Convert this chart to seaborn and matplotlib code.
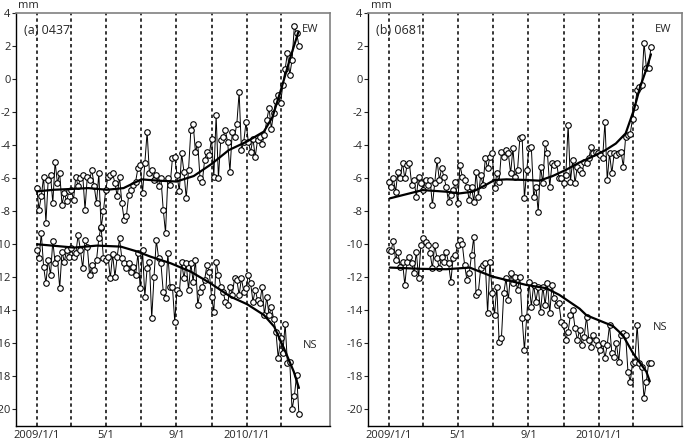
import numpy as np
import pandas as pd
import matplotlib
matplotlib.use("Agg")
import matplotlib.pyplot as plt
import seaborn as sns

# ---------------- data ----------------
obs_dates = pd.date_range("2009-01-01", periods=115, freq="4D")

ew_a = [-6.6, -7.9, -7.1, -5.9, -8.7, -6.1, -5.8, -7.5, -5.0, -6.3, -5.7, -7.6, -6.9, -7.4, -6.8,
        -6.7, -7.3, -5.9, -6.5, -6.0, -5.8, -7.9, -5.9, -6.1, -5.5, -6.5, -7.5, -5.7, -9.0, -8.0,
        -6.7, -5.9, -5.8, -5.7, -6.3, -7.1, -5.9, -7.5, -8.5, -8.3, -7.0, -6.7, -6.4, -6.2,
        -5.4, -5.2, -6.9, -5.1, -3.2, -5.7, -5.5, -6.1, -5.8, -6.5, -6.0, -7.9, -9.3, -6.0, -6.4,
        -4.8, -4.7, -5.8, -6.8, -4.5, -5.6, -7.2, -5.5, -3.1, -2.7, -4.4, -3.9, -6.0, -6.2,
        -4.9, -4.4, -4.6, -3.6, -5.9, -2.2, -6.0, -3.7, -3.5, -3.1, -3.8, -5.6, -3.2, -3.5,
        -2.7, -0.8, -4.3, -3.8, -2.6, -3.8, -4.4, -3.6, -4.7, -3.7, -3.5, -3.9, -3.4,
        -2.5, -1.75, -3.0, -2.05, -1.3, -0.96, -1.45, -0.36, 0.6, 1.6, 0.25, 1.15, 3.2, 2.8, 2.0]

ns_a = [-10.35, -10.85, -9.33, -11.35, -12.36, -10.95, -11.86, -9.8, -11.15, -10.85, -12.66, -10.45, -11.05, -10.35, -10.75,
        -10.24, -10.75, -10.55, -9.44, -10.35, -11.45, -9.74, -10.14, -11.86, -11.25, -11.55, -10.95, -9.64, -8.93, -10.85,
        -10.95, -10.75, -12.06, -10.6, -11.96, -10.75, -9.64, -10.85, -11.15, -11.45, -11.15, -11.66, -11.35, -11.86,
        -10.55, -12.66, -10.35, -13.17, -11.45, -11.05, -14.48, -11.96, -9.74, -10.85, -11.15, -12.86, -13.27, -10.55, -12.56,
        -12.56, -14.68, -12.76, -12.97, -11.05, -12.06, -11.15, -12.76, -11.15, -12.26, -10.95, -13.67, -12.86, -12.56,
        -12.16, -11.25, -11.66, -13.17, -14.08, -11.05, -11.86, -12.56, -12.86, -13.47, -13.67, -12.56, -13.07, -12.06,
        -12.16, -13.07, -12.06, -12.86, -12.66, -11.86, -12.36, -13.47, -12.76, -13.37, -13.57, -12.56, -14.28,
        -13.2, -14.3, -13.8, -14.5, -15.3, -16.9, -15.7, -16.6, -14.8, -17.2, -17.1, -20.0, -19.2, -17.9, -20.3]

ew_b = [-6.21, -6.52, -6.01, -6.82, -5.61, -6.01, -5.06, -6.01, -5.2, -5.1, -6.41, -6.11, -7.12, -5.91, -6.31,
        -6.72, -6.11, -6.41, -6.11, -7.63, -6.31, -4.9, -6.11, -5.41, -5.91, -6.52, -7.42, -7.02, -6.72, -6.21,
        -7.52, -5.2, -5.91, -6.11, -6.52, -7.32, -6.52, -7.42, -5.61, -7.12, -5.81, -6.41, -4.8, -5.41, -4.7,
        -4.5, -6.62, -5.71, -6.21, -4.4, -4.7, -4.3, -4.5, -5.71, -4.2, -5.91, -5.51, -3.59, -3.49, -7.22,
        -5.51, -4.2, -4.1, -7.12, -6.52, -8.03, -5.3, -6.31, -3.89, -4.5, -6.52, -5.1, -5.2, -5.1, -6.01,
        -6.01, -6.31, -5.81, -2.78, -6.21, -4.9, -6.31, -5.3, -5.51, -5.71, -5.0, -5.1, -4.8, -4.1, -4.5,
        -4.4, -4.5, -4.6, -4.8, -2.58, -6.11, -4.5, -5.71, -4.5, -4.6, -4.5, -4.4, -5.3, -3.49, -3.39,
        -3.3, -2.4, -1.7, -0.66, -0.5, -0.36, 2.2, 0.7, 0.7, 1.95]

ns_b = [-10.34, -10.4, -9.8, -10.95, -10.44, -11.35, -11.05, -12.46, -11.05, -10.75, -11.15, -11.76, -10.44, -12.06, -10.04,
        -9.64, -9.84, -10.04, -10.55, -11.45, -10.04, -10.85, -11.45, -10.75, -11.05, -10.44, -11.15, -12.26, -10.85, -10.65,
        -10.04, -9.74, -10.0, -11.25, -12.16, -11.76, -10.65, -9.54, -13.07, -12.86, -11.45, -11.25, -11.15, -14.18, -11.05,
        -12.97, -14.28, -12.56, -15.89, -15.69, -12.97, -12.06, -13.37, -11.76, -12.36, -11.96, -12.76, -11.96, -14.48, -16.4,
        -14.38, -12.26, -13.77, -12.46, -13.47, -12.56, -14.08, -12.56, -13.67, -12.36, -14.18, -12.46, -13.27, -13.67, -13.57,
        -14.68, -14.88, -15.79, -15.29, -14.28, -13.98, -15.08, -15.79, -15.19, -16.09, -15.59, -14.38, -15.79, -16.2, -15.49,
        -15.79, -16.09, -16.4, -16.0, -16.9, -16.09, -14.88, -16.6, -16.8, -16.0, -17.1, -15.49, -15.39, -15.49, -17.71,
        -18.31, -17.2, -17.1, -14.88, -17.2, -17.4, -19.3, -18.31, -17.2, -17.2]

# smoothed trend curves (read at nodes)
ew_a_trend_dates = ["2009-01-01", "2009-01-31", "2009-03-03", "2009-04-01", "2009-05-03", "2009-06-01",
                    "2009-07-02", "2009-08-01", "2009-09-01", "2009-10-01", "2009-11-01", "2009-12-01",
                    "2010-01-01", "2010-01-31", "2010-02-15", "2010-03-03", "2010-03-18", "2010-04-01"]
ew_a_trend = [-6.8, -6.7, -6.65, -6.6, -6.7, -6.6, -6.07, -6.15, -6.2, -5.87, -5.14, -4.3,
              -3.79, -3.18, -2.3, -0.5, 1.3, 2.85]

ns_a_trend_dates = ["2009-01-02", "2009-03-07", "2009-04-16", "2009-05-27", "2009-06-25", "2009-07-18",
                    "2009-08-22", "2009-09-26", "2009-10-30", "2009-12-04", "2010-01-02", "2010-01-31",
                    "2010-02-18", "2010-03-07", "2010-03-24", "2010-04-02"]
ns_a_trend = [-10.0, -10.2, -10.08, -10.14, -10.44, -10.75, -11.15, -11.66, -12.36, -13.17, -13.63,
              -14.28, -14.99, -16.3, -17.71, -18.7]

ew_b_trend_dates = ["2009-01-03", "2009-03-01", "2009-04-12", "2009-05-04", "2009-05-27", "2009-06-13",
                    "2009-07-04", "2009-07-25", "2009-08-29", "2009-09-20", "2009-10-13", "2009-11-05",
                    "2009-11-28", "2009-12-21", "2010-01-13", "2010-01-31", "2010-02-17", "2010-03-03",
                    "2010-03-14", "2010-03-26", "2010-04-02"]
ew_b_trend = [-7.22, -6.72, -6.82, -6.92, -6.82, -6.52, -6.11, -6.07, -6.11, -6.15, -5.87, -5.5,
              -5.06, -4.7, -4.3, -3.9, -3.29, -1.9, -0.5, 0.7, 1.5]

ns_b_trend_dates = ["2009-01-03", "2009-03-02", "2009-04-11", "2009-05-22", "2009-06-08", "2009-07-01",
                    "2009-08-05", "2009-08-28", "2009-10-02", "2009-10-25", "2009-11-29", "2009-12-11",
                    "2010-01-26", "2010-02-12", "2010-03-02", "2010-03-25", "2010-03-31"]
ns_b_trend = [-11.41, -11.49, -11.51, -11.41, -11.65, -11.96, -12.26, -12.46, -12.66, -13.07, -13.9,
              -14.3, -14.95, -15.5, -16.6, -17.71, -18.3]

guide_dates = ["2009-01-01", "2009-03-01", "2009-05-01", "2009-07-01", "2009-09-01",
               "2009-11-01", "2010-01-01", "2010-03-01"]
xtick_dates = ["2009-01-01", "2009-05-01", "2009-09-01", "2010-01-01"]
xtick_labels = ["2009/1/1", "5/1", "9/1", "2010/1/1"]
ytick_values = list(range(-20, 5, 2))

panels = [
    dict(title="(a) 0437", ew=ew_a, ns=ns_a, ewt=(ew_a_trend_dates, ew_a_trend),
         nst=(ns_a_trend_dates, ns_a_trend), left=16, ew_lab=(310, 30), ns_lab=(310, 345),
         mm=(28, 5), title_pos=(24, 30)),
    dict(title="(b) 0681", ew=ew_b, ns=ns_b, ewt=(ew_b_trend_dates, ew_b_trend),
         nst=(ns_b_trend_dates, ns_b_trend), left=368, ew_lab=(663, 29), ns_lab=(660, 327),
         mm=(381, 5), title_pos=(376, 30)),
]

# ---------------- style ----------------
sns.set_style("white")
plt.rcParams["font.family"] = ["Open Sans", "DejaVu Sans"]
plt.rcParams["axes.unicode_minus"] = False

W, H = 684, 446
fig = plt.figure(figsize=(W / 100, H / 100), dpi=100)


def fx(x):
    return x / W


def fy(y):
    return 1 - y / H


for p in panels:
    ax = fig.add_axes([fx(p["left"]), fy(426), fx(314), 413 / H])
    ax.set_facecolor("white")

    for d in guide_dates:
        ax.axvline(pd.Timestamp(d), color="black", lw=1.1, ls=(0, (2.2, 2.0)), zorder=1)

    for key in ("ew", "ns"):
        df = pd.DataFrame({"date": obs_dates, "mm": p[key]})
        sns.lineplot(data=df, x="date", y="mm", ax=ax, color="black", lw=0.7,
                     marker="o", markersize=4.0, markerfacecolor="white",
                     markeredgecolor="black", markeredgewidth=0.8, zorder=3, sort=False)
    for key in ("ewt", "nst"):
        dts, vals = p[key]
        dft = pd.DataFrame({"date": pd.to_datetime(dts), "mm": vals})
        sns.lineplot(data=dft, x="date", y="mm", ax=ax, color="black", lw=1.6, zorder=4, sort=False)

    ax.set_xlim(pd.Timestamp("2008-11-26"), pd.Timestamp("2010-05-26"))
    ax.set_ylim(-21, 4)
    ax.set_xlabel("")
    ax.set_ylabel("")

    ax.set_xticks([pd.Timestamp(d) for d in xtick_dates])
    ax.set_xticklabels(xtick_labels)
    ax.tick_params(axis="x", length=0, pad=3, labelsize=8)
    ax.set_yticks(ytick_values)
    ax.set_yticklabels([str(v) for v in ytick_values])
    ax.tick_params(axis="y", direction="out", length=3, width=0.8, pad=1, labelsize=8,
                   left=True)

    for s in ("left", "bottom"):
        ax.spines[s].set_color("black")
        ax.spines[s].set_linewidth(1.0)
    for s in ("top", "right"):
        ax.spines[s].set_color("#808080")
        ax.spines[s].set_linewidth(1.2)

    fig.text(fx(p["title_pos"][0]), fy(p["title_pos"][1]), p["title"], fontsize=9,
             ha="left", va="center")
    fig.text(fx(p["ew_lab"][0]), fy(p["ew_lab"][1]), "EW", fontsize=8, ha="center", va="center")
    fig.text(fx(p["ns_lab"][0]), fy(p["ns_lab"][1]), "NS", fontsize=8, ha="center", va="center")
    fig.text(fx(p["mm"][0]), fy(p["mm"][1]), "mm", fontsize=8, ha="center", va="center")

fig.savefig("out.png", dpi=100)
